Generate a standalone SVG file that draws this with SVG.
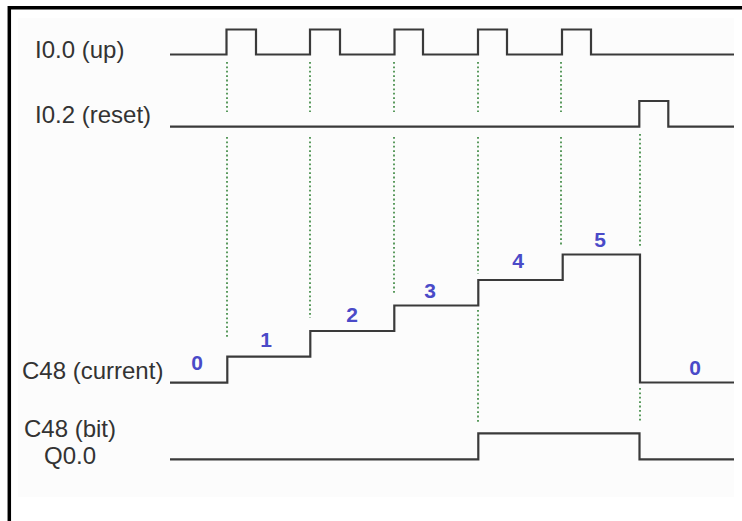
<svg xmlns="http://www.w3.org/2000/svg" width="742" height="521" viewBox="0 0 742 521">
<style>
.lbl{font-family:"Liberation Sans",Arial,sans-serif;font-size:24px;fill:#333333}
.num{font-family:"Liberation Sans",Arial,sans-serif;font-size:21px;font-weight:bold;fill:#4a4ac8;text-anchor:middle}
.sig{fill:none;stroke:#3a3a3a;stroke-width:2.2;stroke-linejoin:miter}
.dot{fill:none;stroke:#5a9a5e;stroke-width:2;stroke-dasharray:1.8 2.6}
</style>
<rect x="0" y="0" width="742" height="521" fill="#ffffff"/>
<rect x="18" y="18" width="716" height="479" fill="#fcfcfc"/>
<g id="frame" fill="none" stroke="#000000" stroke-width="3.5">
<line x1="9.3" y1="7.7" x2="742" y2="7.7"/>
<line x1="9.3" y1="6" x2="9.3" y2="521"/>
</g>
<g id="guides">
<path class="dot" d="M227 62V112M227 137V338"/>
<path class="dot" d="M310 62V112M310 137V318"/>
<path class="dot" d="M394 62V112M394 137V293"/>
<path class="dot" d="M478 62V112M478 137V274M478 310V423"/>
<path class="dot" d="M561 62V112M561 137V247"/>
<path class="dot" d="M640 134V248M640 388V423"/>
</g>
<g id="sig-up">
<text class="lbl" x="35" y="58">I0.0 (up)</text>
<path class="sig" d="M170 54.5H226.5V29.5H256V54.5H310V29.5H340V54.5H394.5V29.5H423V54.5H478V29.5H507V54.5H562V29.5H591V54.5H734"/>
</g>
<g id="sig-reset">
<text class="lbl" x="35" y="123">I0.2 (reset)</text>
<path class="sig" d="M170 126.7H639.3V101H668.3V126.7H734"/>
</g>
<g id="sig-current">
<text class="lbl" x="22" y="379">C48 (current)</text>
<path class="sig" d="M170 382.7H227.3V356.7H310.3V331H394.3V305.5H478.3V280H562.7V254.5H640V382.5H734"/>
<text class="num" x="197" y="370">0</text>
<text class="num" x="266" y="347">1</text>
<text class="num" x="352" y="322">2</text>
<text class="num" x="430" y="298">3</text>
<text class="num" x="518" y="268">4</text>
<text class="num" x="600" y="247">5</text>
<text class="num" x="695" y="375">0</text>
</g>
<g id="sig-bit">
<text class="lbl" x="24" y="437">C48 (bit)</text>
<text class="lbl" x="44" y="464">Q0.0</text>
<path class="sig" d="M170 459.3H478.3V433.3H639.5V459.3H734"/>
</g>
</svg>
